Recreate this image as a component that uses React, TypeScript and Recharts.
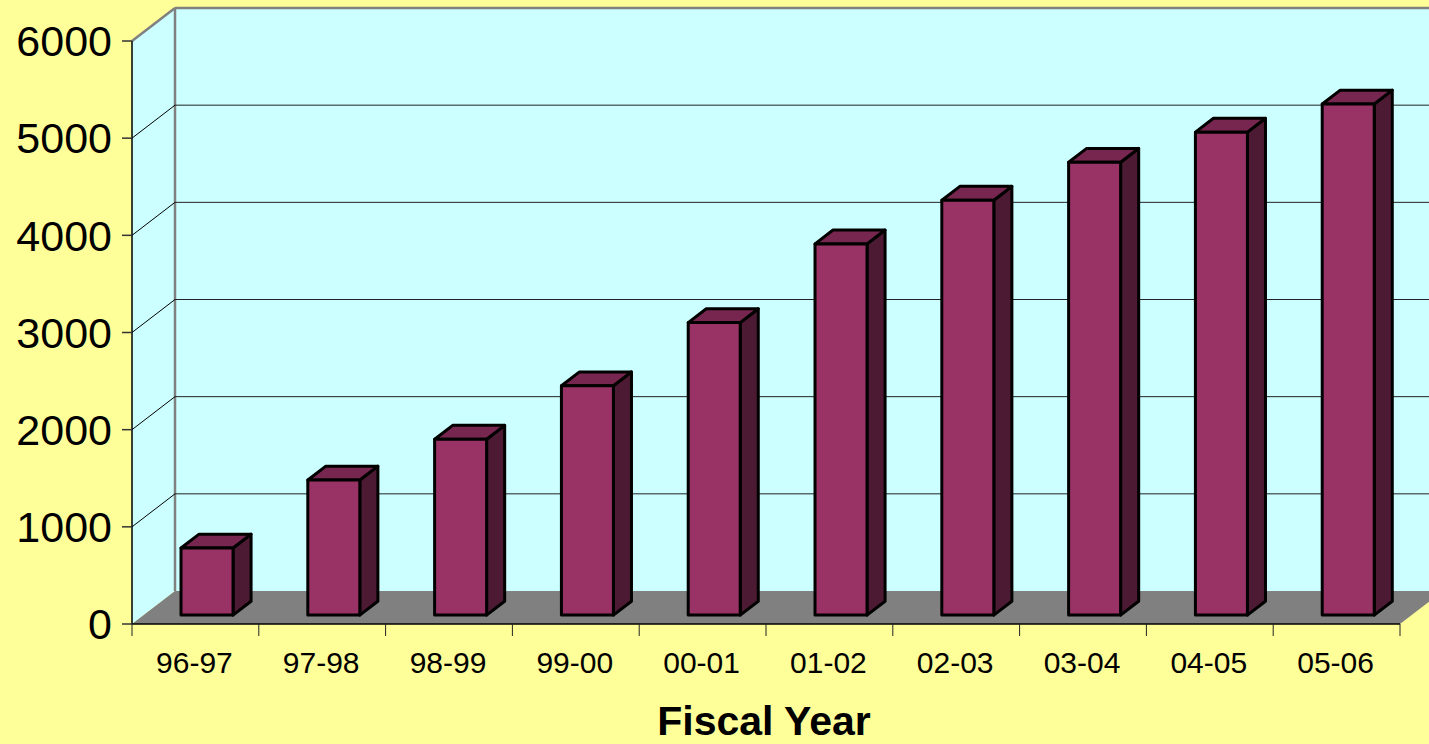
import React from 'react';
import { BarChart, Bar, XAxis, YAxis, ReferenceArea, Label } from 'recharts';

const categories = ['96-97', '97-98', '98-99', '99-00', '00-01', '01-02', '02-03', '03-04', '04-05', '05-06'];
const values = [690, 1390, 1810, 2360, 3010, 3820, 4270, 4660, 4970, 5260];
const yTicks = [0, 1000, 2000, 3000, 4000, 5000, 6000];
const gridValues = [1000, 2000, 3000, 4000, 5000];

const data = categories.map((c, i) => ({ cat: c, value: values[i] }));

// layout constants
const W = 1429;
const H = 744;
const M_TOP = 41;
const M_RIGHT = 29;
const Y_AXIS_W = 132;
const X_AXIS_H = 120;
const PLOT_W = W - Y_AXIS_W - M_RIGHT;
const DX = 43;
const DY = 33;
const BAR_FRONT = 0.27;
const BAR_DEPTH = 0.42;
const FONT = '"Liberation Sans", Arial, sans-serif';

const WALL = '#CCFFFF';
const FLOOR = '#808080';
const BG = '#FFFF99';

const Walls = (props: any) => {
  const { x, y, width, height } = props;
  const b = y + height;
  return (
    <g>
      <rect x={x + DX} y={y - DY} width={width} height={height} fill={WALL} />
      <polygon points={`${x},${y} ${x + DX},${y - DY} ${x + DX},${b - DY} ${x},${b}`} fill={WALL} />
      <polygon points={`${x},${b} ${x + DX},${b - DY} ${x + width + DX},${b - DY} ${x + width},${b}`} fill={FLOOR} />
      <line x1={x} y1={y} x2={x + DX} y2={y - DY} stroke="#808080" strokeWidth={2.5} />
      <line x1={x + DX} y1={y - DY} x2={x + width + DX} y2={y - DY} stroke="#808080" strokeWidth={2.5} />
      <line x1={x + DX} y1={y - DY} x2={x + DX} y2={b - DY} stroke="#808080" strokeWidth={2.5} />
    </g>
  );
};

// draws a gridline at the top edge of the reference area (the tick value)
const GridLine = (props: any) => {
  const { x, y, width } = props;
  return (
    <g>
      <line x1={x} y1={y} x2={x + DX} y2={y - DY} stroke="#000" strokeWidth={1} />
      <line x1={x + DX} y1={y - DY} x2={x + width + DX} y2={y - DY} stroke="#222" strokeWidth={1} />
    </g>
  );
};

const Bar3D = (props: any) => {
  const { x, y, width, height } = props;
  const ox = x + DX * BAR_FRONT;
  const oy = y - DY * BAR_FRONT;
  const dx = DX * BAR_DEPTH;
  const dy = DY * BAR_DEPTH;
  const w = width;
  const h = height;
  const sw = 3;
  return (
    <g strokeLinejoin="round">
      <polygon
        points={`${ox + w},${oy} ${ox + w + dx},${oy - dy} ${ox + w + dx},${oy + h - dy} ${ox + w},${oy + h}`}
        fill="#4D1A33"
        stroke="#000"
        strokeWidth={sw}
      />
      <polygon
        points={`${ox},${oy} ${ox + dx},${oy - dy} ${ox + w + dx},${oy - dy} ${ox + w},${oy}`}
        fill="#77264F"
        stroke="#000"
        strokeWidth={sw}
      />
      <rect x={ox} y={oy} width={w} height={h} fill="#993366" stroke="#000" strokeWidth={sw} />
    </g>
  );
};

const XTick = (props: any) => {
  const { x, y, payload, index } = props;
  const bw = PLOT_W / categories.length;
  const left = x - bw / 2;
  const right = x + bw / 2;
  return (
    <g>
      <line x1={left} y1={y} x2={left} y2={y + 12} stroke="#222" strokeWidth={1} />
      {index === categories.length - 1 && (
        <line x1={right} y1={y} x2={right} y2={y + 12} stroke="#222" strokeWidth={1} />
      )}
      <text x={x - 1} y={y + 49} textAnchor="middle" fontSize={30} fill="#000" fontFamily={FONT}>
        {payload.value}
      </text>
    </g>
  );
};

export default function App() {
  return (
    <div
      style={{
        position: 'absolute',
        left: 0,
        top: 0,
        width: W,
        height: H,
        background: BG,
        fontFamily: FONT,
        overflow: 'hidden',
      }}
    >
      <BarChart
        width={W}
        height={H}
        data={data}
        margin={{ top: M_TOP, right: M_RIGHT, bottom: 0, left: 0 }}
        barCategoryGap="29.5%"
      >
        <ReferenceArea
          x1={categories[0]}
          x2={categories[categories.length - 1]}
          y1={0}
          y2={6000}
          shape={<Walls />}
          ifOverflow="visible"
        />
        {gridValues.map((v) => (
          <ReferenceArea
            key={v}
            x1={categories[0]}
            x2={categories[categories.length - 1]}
            y1={0}
            y2={v}
            shape={<GridLine />}
            ifOverflow="visible"
          />
        ))}
        <XAxis
          dataKey="cat"
          height={X_AXIS_H}
          tickSize={0}
          tickMargin={0}
          tickLine={false}
          axisLine={{ stroke: '#000', strokeWidth: 1.5 }}
          tick={<XTick />}
          interval={0}
        >
          <Label
            value="Fiscal Year"
            position="insideBottom"
            offset={9}
            fontSize={41}
            fontWeight="bold"
            fill="#000"
            fontFamily={FONT}
            dx={-2}
          />
        </XAxis>
        <YAxis
          width={Y_AXIS_W}
          domain={[0, 6000]}
          ticks={yTicks}
          interval={0}
          tickSize={10}
          tickMargin={10}
          axisLine={{ stroke: '#000', strokeWidth: 1.5 }}
          tickLine={{ stroke: '#333', strokeWidth: 1.5 }}
          tick={{ fontSize: 43, fill: '#000', fontFamily: FONT }}
        />
        <Bar dataKey="value" shape={<Bar3D />} isAnimationActive={false} />
      </BarChart>
    </div>
  );
}
